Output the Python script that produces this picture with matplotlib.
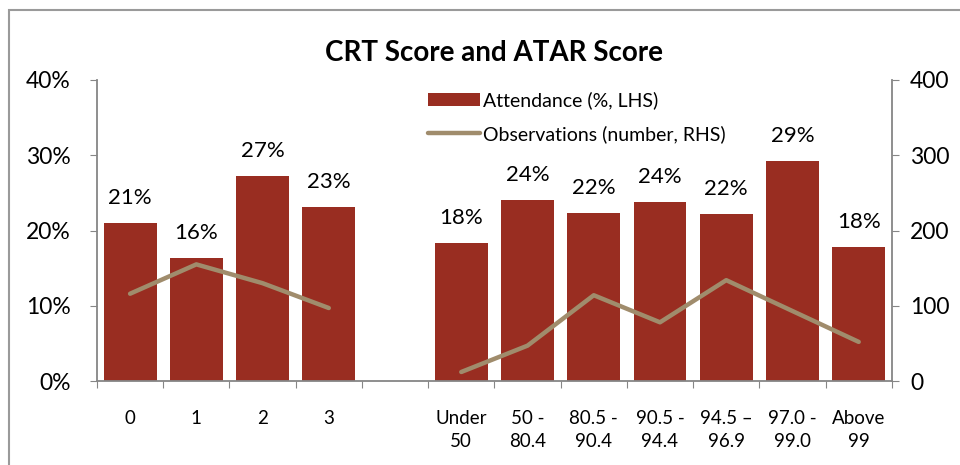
import numpy as np
import matplotlib
matplotlib.use("Agg")
import matplotlib.pyplot as plt
from matplotlib.patches import Rectangle

plt.rcParams['font.family'] = ['Lato', 'DejaVu Sans']

categories = ["0", "1", "2", "3", "", "Under\n50", "50 -\n80.4", "80.5 -\n90.4",
              "90.5 -\n94.4", "94.5 \u2013\n96.9", "97.0 -\n99.0", "Above\n99"]
attendance = [21.0, 16.4, 27.3, 23.1, np.nan, 18.3, 24.1, 22.3, 23.8, 22.2, 29.2, 17.8]
attendance_labels = ["21%", "16%", "27%", "23%", "", "18%", "24%", "22%", "24%", "22%", "29%", "18%"]
observations = [116, 155, 130, 97, np.nan, 12, 47, 114, 78, 134, 93, 52]

bar_color = "#992D21"
line_color = "#A08C6C"
axis_grey = "#868686"

fig = plt.figure(figsize=(9.6, 4.65), dpi=100)
ax = fig.add_axes([0.101, 0.1806, 0.828, 0.6474])
ax2 = ax.twinx()

x = np.arange(len(categories))
ax.bar(x, attendance, width=0.8, color=bar_color, label="Attendance (%, LHS)", zorder=2)
for xi, v, lab in zip(x, attendance, attendance_labels):
    if lab:
        ax.text(xi, v + 2.0, lab, ha="center", va="bottom", fontsize=16)

ax2.plot(x, observations, color=line_color, lw=3.2, solid_capstyle="round",
         label="Observations (number, RHS)", zorder=3)

ax.set_xlim(-0.5, len(categories) - 0.5)
ax.set_ylim(0, 40)
ax2.set_ylim(0, 400)
ax.set_yticks([0, 10, 20, 30, 40])
ax.set_yticklabels(["0%", "10%", "20%", "30%", "40%"], fontsize=16.5)
ax2.set_yticks([0, 100, 200, 300, 400])
ax2.set_yticklabels(["0", "100", "200", "300", "400"], fontsize=16.5)

ax.set_xticks(np.arange(len(categories) + 1) - 0.5, minor=False)
ax.set_xticklabels([])
ax.set_xticks(x, minor=True)
ax.set_xticklabels(categories, minor=True, fontsize=13.5, linespacing=1.45)
ax.tick_params(axis="x", which="major", length=5, color=axis_grey, direction="out")
ax.tick_params(axis="x", which="minor", length=0, pad=21)
ax.tick_params(axis="y", length=5, color=axis_grey, pad=14)
ax2.tick_params(axis="y", length=5, color=axis_grey, pad=8)

for a in (ax, ax2):
    a.spines["top"].set_visible(False)
    for s in ("left", "right", "bottom"):
        a.spines[s].set_color(axis_grey)
        a.spines[s].set_linewidth(1.3)
ax.spines["right"].set_visible(False)
ax2.spines["left"].set_visible(False)
ax2.spines["bottom"].set_visible(False)

ax.set_title("CRT Score and ATAR Score", fontsize=20, fontweight="bold", pad=14)

h1, l1 = ax.get_legend_handles_labels()
h2, l2 = ax2.get_legend_handles_labels()
ax.legend(h1 + h2, l1 + l2, loc="upper left", bbox_to_anchor=(0.394, 1.02), frameon=False,
          fontsize=14, handlelength=2.7, handletextpad=0.15, labelspacing=0.8)

fig.patches.append(Rectangle((0.0095, -0.05), 1.2, 1.028, transform=fig.transFigure,
                             fill=False, edgecolor="#9A9A9A", lw=1.5))

fig.savefig("out.png", dpi=100)
